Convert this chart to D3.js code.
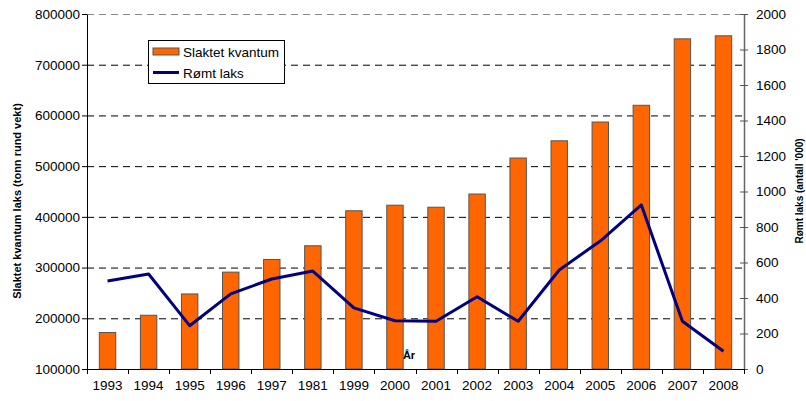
<!DOCTYPE html>
<html>
<head>
<meta charset="utf-8">
<script src="https://cdn.jsdelivr.net/npm/d3@7"></script>
<style>
  body { margin: 0; background: #fff; }
  svg { font-family: "Liberation Sans", Arial, sans-serif; }
</style>
</head>
<body>
<svg id="chart" width="806" height="401"></svg>
<script>
// categories on the x axis (as printed, incl. the odd 1981)
var years = ["1993", "1994", "1995", "1996", "1997", "1981", "1999", "2000",
             "2001", "2002", "2003", "2004", "2005", "2006", "2007", "2008"];

// slaughtered salmon, tonnes (left axis)
var slaktet = [172000, 206000, 248000, 291000, 316000, 343000, 412000, 423000,
               419000, 445000, 516000, 550000, 587000, 620000, 751000, 757000];

// escaped salmon, thousands (right axis)
var romt = [496, 535, 244, 423, 507, 552, 344, 272,
            269, 407, 269, 558, 721, 924, 269, 100];

var leftTicks = [100000, 200000, 300000, 400000, 500000, 600000, 700000, 800000];
var rightTicks = [0, 200, 400, 600, 800, 1000, 1200, 1400, 1600, 1800, 2000];

var svg = d3.select("#chart"),
    margin = {top: 14, right: 62, bottom: 32, left: 87},
    width = +svg.attr("width") - margin.left - margin.right,
    height = +svg.attr("height") - margin.top - margin.bottom;

var x = d3.scaleBand().domain(years).range([0, width]),
    y = d3.scaleLinear().domain([100000, 800000]).range([height, 0]),
    y2 = d3.scaleLinear().domain([0, 2000]).range([height, 0]);

var g = svg.append("g")
    .attr("transform", "translate(" + margin.left + "," + margin.top + ")");

// dashed grid lines
g.selectAll(".grid")
  .data(leftTicks.slice(1))
  .enter().append("line")
    .attr("x1", 0)
    .attr("x2", width)
    .attr("y1", function(d) { return y(d) + 0.5; })
    .attr("y2", function(d) { return y(d) + 0.5; })
    .attr("stroke", function(d) { return d === 800000 ? "#888" : "#000"; })
    .attr("stroke-width", 1)
    .attr("stroke-dasharray", "7,5");

// bars
var data = years.map(function(d, i) { return {year: d, slaktet: slaktet[i], romt: romt[i]}; });
var bw = x.bandwidth() * 0.4;

g.selectAll(".bar")
  .data(data)
  .enter().append("rect")
    .attr("class", "bar")
    .attr("x", function(d) { return x(d.year) + (x.bandwidth() - bw) / 2; })
    .attr("y", function(d) { return y(d.slaktet); })
    .attr("width", bw)
    .attr("height", function(d) { return height - y(d.slaktet); })
    .attr("fill", "#ff6600")
    .attr("stroke", "#555")
    .attr("stroke-width", 1);

// line
var line = d3.line()
    .x(function(d) { return x(d.year) + x.bandwidth() / 2; })
    .y(function(d) { return y2(d.romt); });

g.append("path")
    .datum(data)
    .attr("d", line)
    .attr("fill", "none")
    .attr("stroke", "#000080")
    .attr("stroke-width", 3)
    .attr("stroke-linejoin", "round");

// left axis
var yAxis = g.append("g")
    .call(d3.axisLeft(y).tickValues(leftTicks).tickSize(5).tickSizeOuter(0).tickFormat(d3.format("d")));
yAxis.select(".domain").attr("stroke", "#000");
yAxis.selectAll("text").attr("font-size", "13.5px").attr("fill", "#000").attr("x", -7);
yAxis.attr("font-family", null);

// right axis, ticks cross the line
var y2Axis = g.append("g")
    .attr("transform", "translate(" + width + ",0)")
    .call(d3.axisRight(y2).tickValues(rightTicks).tickSize(4).tickSizeOuter(0).tickFormat(d3.format("d")));
y2Axis.select(".domain").attr("stroke", "#666").attr("stroke-width", 1.5);
y2Axis.selectAll(".tick line").attr("x1", -4).attr("stroke", "#555");
y2Axis.selectAll("text").attr("font-size", "13.5px").attr("fill", "#000").attr("x", 12);
y2Axis.attr("font-family", null);

// x axis, ticks at band edges
var xAxis = g.append("g")
    .attr("transform", "translate(0," + height + ")")
    .call(d3.axisBottom(x).tickSize(0).tickSizeOuter(0));
xAxis.selectAll("text").attr("font-size", "13.5px").attr("fill", "#000").attr("dy", "1.35em");
xAxis.attr("font-family", null);
xAxis.selectAll(".edge")
  .data(years.concat(["end"]))
  .enter().append("line")
    .attr("class", "edge")
    .attr("x1", function(d, i) { return Math.round(i * x.step()) + 0.5; })
    .attr("x2", function(d, i) { return Math.round(i * x.step()) + 0.5; })
    .attr("y1", 0)
    .attr("y2", 5)
    .attr("stroke", "#000");

// axis titles
g.append("text")
    .attr("x", 322)
    .attr("y", height - 10)
    .attr("text-anchor", "middle")
    .attr("font-size", "11px")
    .attr("font-weight", "bold")
    .text("År");

svg.append("text")
    .attr("transform", "translate(21,201) rotate(-90)")
    .attr("text-anchor", "middle")
    .attr("font-size", "11px")
    .attr("font-weight", "bold")
    .text("Slaktet kvantum laks (tonn rund vekt)");

svg.append("text")
    .attr("transform", "translate(803,191) rotate(-90)")
    .attr("text-anchor", "middle")
    .attr("font-size", "10px")
    .attr("font-weight", "bold")
    .text("Rømt laks (antall '000)");

// legend
var legend = svg.append("g").attr("transform", "translate(148,40)");
legend.append("rect")
    .attr("x", 0.5).attr("y", 0.5)
    .attr("width", 136).attr("height", 43)
    .attr("fill", "#fff")
    .attr("stroke", "#000");
legend.append("rect")
    .attr("x", 5).attr("y", 8)
    .attr("width", 26).attr("height", 7)
    .attr("fill", "#ff6600")
    .attr("stroke", "#555");
legend.append("line")
    .attr("x1", 5).attr("x2", 31)
    .attr("y1", 32.5).attr("y2", 32.5)
    .attr("stroke", "#000080")
    .attr("stroke-width", 3);
legend.append("text")
    .attr("x", 35).attr("y", 16.5)
    .attr("font-size", "13.5px")
    .text("Slaktet kvantum");
legend.append("text")
    .attr("x", 35).attr("y", 37.5)
    .attr("font-size", "13.5px")
    .text("Rømt laks");
</script>
</body>
</html>
